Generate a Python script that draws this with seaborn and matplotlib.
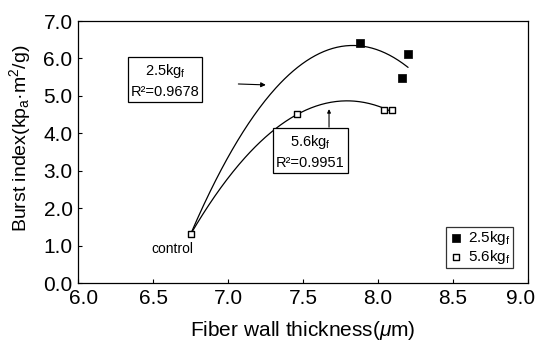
import numpy as np
import pandas as pd
import matplotlib
matplotlib.use("Agg")
import matplotlib.pyplot as plt
import matplotlib.transforms as mtrans
import seaborn as sns

# values
x_25 = [6.75, 7.88, 8.16, 8.20]
y_25 = [1.30, 6.40, 5.47, 6.11]
x_56 = [6.75, 7.46, 8.04, 8.09]
y_56 = [1.30, 4.51, 4.62, 4.62]
r2_25 = "0.9678"
r2_56 = "0.9951"
x_ticks = [6.0, 6.5, 7.0, 7.5, 8.0, 8.5, 9.0]
y_ticks = [0.0, 1.0, 2.0, 3.0, 4.0, 5.0, 6.0, 7.0]

sns.set_style("ticks", {'text.color': 'black', 'axes.labelcolor': 'black',
                        'xtick.color': 'black', 'ytick.color': 'black'})
plt.rcParams['font.family'] = ['Liberation Sans', 'DejaVu Sans']
plt.rcParams['mathtext.fontset'] = 'custom'
plt.rcParams['mathtext.rm'] = 'Liberation Sans'
plt.rcParams['mathtext.it'] = 'Liberation Sans:italic'

df = pd.concat([
    pd.DataFrame({'x': x_25, 'y': y_25, 'load': '2.5'}),
    pd.DataFrame({'x': x_56, 'y': y_56, 'load': '5.6'}),
])


def trend(xs, ys):
    # quadratic trendline like the spreadsheet one
    c = np.polyfit(xs, ys, 2)
    xx = np.linspace(min(xs), max(xs), 200)
    return pd.DataFrame({'x': xx, 'y': np.polyval(c, xx)})


fig = plt.figure(figsize=(5.35, 3.56), dpi=100)
ax = fig.add_axes([0.146, 0.205, 0.841, 0.736])

sns.lineplot(data=trend(x_25, y_25), x='x', y='y', ax=ax, color='black', lw=0.9, sort=False)
sns.lineplot(data=trend(x_56, y_56), x='x', y='y', ax=ax, color='black', lw=0.9, sort=False)

d25 = df[df['load'] == '2.5']
d56 = df[df['load'] == '5.6']
sns.scatterplot(data=d25.iloc[1:], x='x', y='y', ax=ax, marker='s', s=40, color='black',
                edgecolor='black', label='2.5kg$_\\mathregular{f}$', zorder=3)
sns.scatterplot(data=d56, x='x', y='y', ax=ax, marker='s', s=22, color='white',
                edgecolor='black', linewidth=1.0, label='5.6kg$_\\mathregular{f}$', zorder=3)

ax.set_xlim(6.0, 9.0)
ax.set_ylim(0.0, 7.0)
ax.set_xticks(x_ticks)
ax.set_yticks(y_ticks)
ax.set_xticklabels([f"{v:.1f}" for v in x_ticks], fontsize=15)
ax.set_yticklabels([f"{v:.1f}" for v in y_ticks], fontsize=15)
ax.tick_params(direction='in', length=3, width=0.8, pad=4, colors='black')
for sp in ax.spines.values():
    sp.set_linewidth(0.9)
    sp.set_color('black')

# first and last x labels sit a bit inward, as in the reference
xl = ax.get_xticklabels()
xl[0].set_transform(xl[0].get_transform() + mtrans.ScaledTranslation(5 / 100, 0, fig.dpi_scale_trans))
xl[-1].set_transform(xl[-1].get_transform() + mtrans.ScaledTranslation(-7 / 100, 0, fig.dpi_scale_trans))

ax.set_xlabel('Fiber wall thickness($\\mu$m)', fontsize=15, labelpad=8, color='black')
ax.set_ylabel('Burst index(kp$_\\mathregular{a}$·m$^\\mathregular{2}$/g)', fontsize=14, color='black')
ax.yaxis.set_label_coords(-0.1, 0.553)

box = dict(boxstyle='square,pad=0.2', fc='white', ec='black', lw=0.9)
ax.text(6.58, 5.41, '2.5kg$_\\mathregular{f}$\nR²=' + r2_25, fontsize=10.5,
        ha='center', va='center', bbox=box, linespacing=1.45, color='black')
ax.annotate('', xy=(7.27, 5.29), xytext=(7.05, 5.32),
            arrowprops=dict(arrowstyle='-|>', color='black', lw=0.8, mutation_scale=7))
ax.text(7.55, 3.51, '5.6kg$_\\mathregular{f}$\nR²=' + r2_56, fontsize=10.5,
        ha='center', va='center', bbox=box, linespacing=1.45, color='black')
ax.annotate('', xy=(7.673, 4.72), xytext=(7.673, 4.09),
            arrowprops=dict(arrowstyle='-|>', color='black', lw=0.8, mutation_scale=5))
ax.text(6.63, 0.9, 'control', fontsize=10, ha='center', va='center', color='black')

leg = ax.legend(loc='lower right', bbox_to_anchor=(0.967, 0.057), borderaxespad=0,
                fontsize=11, frameon=True, fancybox=False, edgecolor='black',
                handletextpad=0.3, borderpad=0.15, labelspacing=0.05, handlelength=1.0,
                labelcolor='black')
leg.get_frame().set_linewidth(0.9)

fig.savefig('out.png', dpi=100)
